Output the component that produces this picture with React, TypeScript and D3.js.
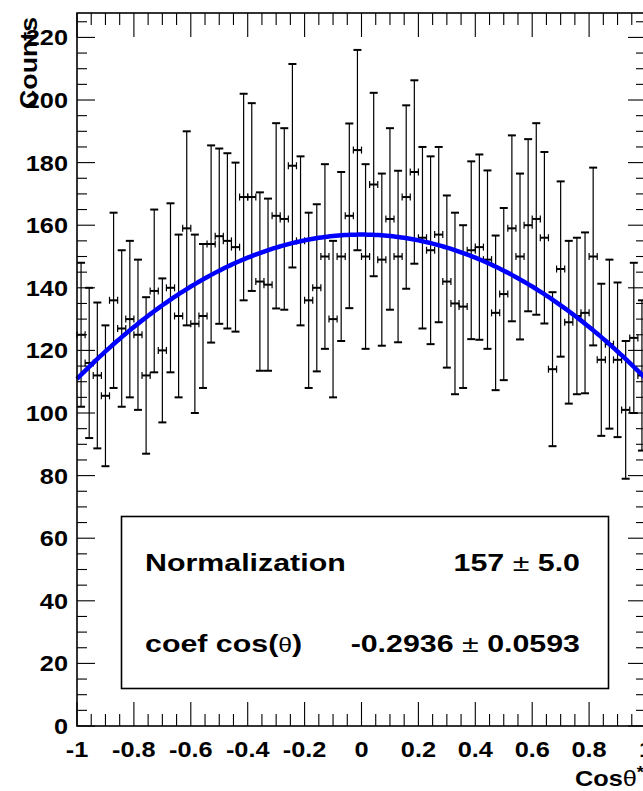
import React from "react";
import * as d3 from "d3";

// Histogram contents: 70 bins over cos(theta*) in [-1, 1]
const counts = [
  125, 116, 112, 105.5, 136, 127, 130, 125, 112, 139,
  120, 140, 131, 159, 128.5, 131, 154, 156.5, 155, 153,
  169, 169, 142, 141, 163, 162, 179, 155, 136, 140,
  150, 130, 150, 163, 184, 150, 173, 149, 162, 150,
  169, 177, 156, 152, 157, 142, 135, 134, 152, 153,
  149, 132, 138, 159, 150, 160, 162, 156, 114, 146,
  129, 131, 132, 150, 117, 122, 117, 101, 124, 112,
];
const errors = [
  23, 24, 23.3, 22.5, 28, 25, 25, 24, 25, 26,
  23, 27, 26, 31, 28.5, 23, 31.5, 28, 28, 27,
  33, 30, 28.5, 27.5, 29.6, 29, 32.5, 27, 28, 26.7,
  29.5, 25, 27, 29.5, 32, 29.5, 29.3, 27.5, 29, 27.4,
  29.3, 29.3, 29, 30, 28, 27.5, 29, 26, 28.4, 29.6,
  28.5, 24.7, 27.5, 29.7, 26.5, 27.5, 30.6, 27.4, 24.6, 28,
  26, 25, 25.7, 28.4, 24.3, 27, 24.7, 22, 24, 24,
];

const xTickValues = [-1, -0.8, -0.6, -0.4, -0.2, 0, 0.2, 0.4, 0.6, 0.8, 1];
const xTickLabels = ["-1", "-0.8", "-0.6", "-0.4", "-0.2", "0", "0.2", "0.4", "0.6", "0.8", "1"];
const yTickValues = [0, 20, 40, 60, 80, 100, 120, 140, 160, 180, 200, 220];
const yTickLabels = ["0", "20", "40", "60", "80", "100", "120", "140", "160", "180", "200", "220"];

// Fit result: N * (1 + c * cos^2)
const fitNorm = 157;
const fitNormErr = 5.0;
const fitCoef = -0.2936;
const fitCoefErr = 0.0593;

const W = 643;
const H = 791;
const FONT = "'Liberation Sans', Arial, Helvetica, sans-serif";

export default function App() {
  const xMin = -1;
  const xMax = 1;
  const nBins = counts.length;
  const binW = (xMax - xMin) / nBins;

  const x = d3.scaleLinear().domain([xMin, xMax]).range([77, 646]);
  const y = d3.scaleLinear().domain([0, 227.8]).range([726, 13]);

  const [fx0, fx1] = x.range();
  const [fy0, fy1] = y.range();

  const xMinor = d3.range(-1, 1.0001, 0.05);
  const yMinor = d3.range(0, 227.8, 5);

  const fitFn = (c: number) => fitNorm * (1 + fitCoef * c * c);
  const curvePts = d3.range(0, 201).map((k) => xMin + (k / 200) * (xMax - xMin));
  const line = d3
    .line<number>()
    .x((c) => x(c))
    .y((c) => y(fitFn(c)));

  const cap = 4;
  const markCap = 3.5;

  return (
    <svg
      width={W}
      height={H}
      style={{ position: "absolute", left: 0, top: 0, display: "block", background: "#fff" }}
      fontFamily={FONT}
    >
      <rect x={0} y={0} width={W} height={H} fill="#fff" />

      {/* error bars */}
      <g stroke="#000" fill="none">
        {counts.map((v, i) => {
          const c = xMin + (i + 0.5) * binW;
          const cx = x(c);
          const lo = v - errors[i];
          const hi = v + errors[i];
          const xl = x(c - binW / 2);
          const xr = x(c + binW / 2);
          return (
            <g key={i}>
              <line x1={cx} x2={cx} y1={y(hi)} y2={y(lo)} strokeWidth={1.2} />
              <line x1={cx - cap} x2={cx + cap} y1={y(hi)} y2={y(hi)} strokeWidth={2} />
              <line x1={cx - cap} x2={cx + cap} y1={y(lo)} y2={y(lo)} strokeWidth={2} />
              <line x1={xl} x2={xr} y1={y(v)} y2={y(v)} strokeWidth={2} />
              <line x1={xl} x2={xl} y1={y(v) - markCap} y2={y(v) + markCap} strokeWidth={1.2} />
              <line x1={xr} x2={xr} y1={y(v) - markCap} y2={y(v) + markCap} strokeWidth={1.2} />
            </g>
          );
        })}
      </g>

      {/* fit curve */}
      <path d={line(curvePts) || ""} fill="none" stroke="#0000ff" strokeWidth={4.5} />

      {/* frame */}
      <rect
        x={fx0}
        y={fy1}
        width={fx1 - fx0}
        height={fy0 - fy1}
        fill="none"
        stroke="#000"
        strokeWidth={1.6}
      />

      {/* x ticks, bottom and top */}
      <g stroke="#000" strokeWidth={1.1}>
        {xMinor.map((t, k) => {
          const major = xTickValues.some((m) => Math.abs(m - t) < 1e-6);
          const len = major ? 24 : 12;
          return (
            <g key={k}>
              <line x1={x(t)} x2={x(t)} y1={fy0} y2={fy0 - len} />
              <line x1={x(t)} x2={x(t)} y1={fy1} y2={fy1 + len} />
            </g>
          );
        })}
      </g>

      {/* y ticks, left and right */}
      <g stroke="#000" strokeWidth={1.1}>
        {yMinor.map((t, k) => {
          const major = yTickValues.some((m) => Math.abs(m - t) < 1e-6);
          const len = major ? 18 : 10;
          return (
            <g key={k}>
              <line x1={fx0} x2={fx0 + len} y1={y(t)} y2={y(t)} />
              <line x1={fx1} x2={fx1 - len} y1={y(t)} y2={y(t)} />
            </g>
          );
        })}
      </g>

      {/* x tick labels */}
      <g fontSize={22} fontWeight="bold" fill="#000">
        {xTickValues.map((t, k) => (
          <g key={k} transform={`translate(${x(t)},757) scale(1.15,1)`}>
            <text x={0} y={0} textAnchor="middle">
              {xTickLabels[k]}
            </text>
          </g>
        ))}
      </g>

      {/* y tick labels */}
      <g fontSize={22} fontWeight="bold" fill="#000">
        {yTickValues.map((t, k) => (
          <g key={k} transform={`translate(68,${y(t)}) scale(1.15,1)`}>
            <text x={0} y={0} dy="0.36em" textAnchor="end">
              {yTickLabels[k]}
            </text>
          </g>
        ))}
      </g>

      {/* axis titles */}
      <g transform="translate(37,17) rotate(-90)">
        <text
          x={0}
          y={0}
          textAnchor="end"
          fontSize={24}
          fontWeight="bold"
          textLength={92}
          lengthAdjust="spacingAndGlyphs"
        >
          Counts
        </text>
      </g>
      <g transform="translate(575,786) scale(1.15,1)">
        <text x={0} y={0} fontSize={22} fontWeight="bold">
          Cos
          <tspan fontWeight="normal">θ</tspan>
          <tspan fontSize={16} dy={-8}>*</tspan>
        </text>
      </g>

      {/* fit statistics box */}
      <rect x={121.5} y={516.5} width={487} height={172} fill="#fff" stroke="#000" strokeWidth={1.6} />
      <g fontSize={24.5} fontWeight="bold" fill="#000">
        <g transform="translate(145,571) scale(1.24,1)">
          <text x={0} y={0}>Normalization</text>
        </g>
        <g transform="translate(580,571) scale(1.24,1)">
          <text x={0} y={0} textAnchor="end">
            {`${fitNorm} `}
            <tspan fontWeight="normal">±</tspan>
            {` ${fitNormErr.toFixed(1)}`}
          </text>
        </g>
        <g transform="translate(145,652) scale(1.24,1)">
          <text x={0} y={0}>
            {"coef cos("}
            <tspan fontWeight="normal" fontSize={20}>θ</tspan>
            {")"}
          </text>
        </g>
        <g transform="translate(580,652) scale(1.24,1)">
          <text x={0} y={0} textAnchor="end">
            {`${fitCoef.toFixed(4)} `}
            <tspan fontWeight="normal">±</tspan>
            {` ${fitCoefErr.toFixed(4)}`}
          </text>
        </g>
      </g>
    </svg>
  );
}
